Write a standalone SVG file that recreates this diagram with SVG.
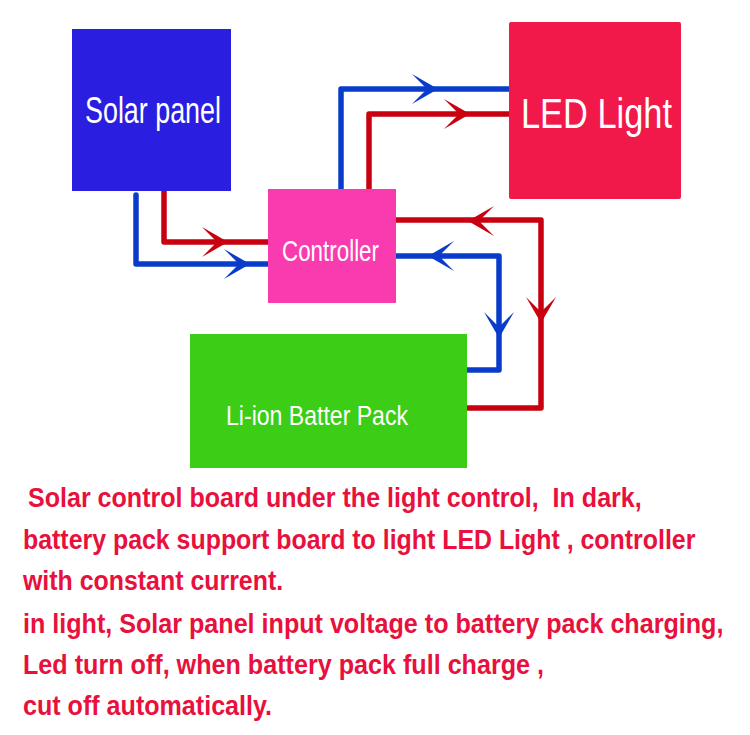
<svg xmlns="http://www.w3.org/2000/svg" xmlns:xlink="http://www.w3.org/1999/xlink" width="750" height="735" viewBox="0 0 750 735">
<style>
.lbl{font-family:"Liberation Sans",Arial,sans-serif;fill:#ffffff;}
.note{font-family:"Liberation Sans",Arial,sans-serif;font-weight:bold;font-size:27px;fill:#e8103c;white-space:pre;}
.wb{fill:none;stroke:#0a3ccc;stroke-width:5.5;stroke-linejoin:round;stroke-linecap:round;}
.wr{fill:none;stroke:#c8000f;stroke-width:5.5;stroke-linejoin:round;}
.ab{fill:#0a3ccc;}
.ar{fill:#c8000f;}
</style>
<defs>
<path id="ah" d="M0,0 L-26,-15 Q-16,-5 -11,0 Q-16,5 -26,15 Z"/>
</defs>
<rect width="750" height="735" fill="#ffffff"/>
<g id="connectors">
<path class="wb" d="M136,195 V264 H268"/>
<path class="wr" d="M164,191 V242 H268"/>
<path class="wb" d="M341,189 V89 H509"/>
<path class="wr" d="M369,189 V114 H509"/>
<path class="wr" d="M396,220 H541 V408 H467"/>
<path class="wb" d="M396,256 H499 V370 H467"/>
<use xlink:href="#ah" class="ab" transform="translate(250,264)"/>
<use xlink:href="#ah" class="ar" transform="translate(228,242)"/>
<use xlink:href="#ah" class="ab" transform="translate(438,89)"/>
<use xlink:href="#ah" class="ar" transform="translate(470,114)"/>
<use xlink:href="#ah" class="ar" transform="translate(468,221) rotate(180)"/>
<use xlink:href="#ah" class="ar" transform="translate(541,323) rotate(90)"/>
<use xlink:href="#ah" class="ab" transform="translate(428,256) rotate(180)"/>
<use xlink:href="#ah" class="ab" transform="translate(499,338) rotate(90)"/>
</g>
<g id="solar-panel">
<rect x="72" y="29" width="159" height="162" fill="#2a1ee0"/>
<text class="lbl" x="85" y="123" font-size="36" textLength="136" lengthAdjust="spacingAndGlyphs">Solar panel</text>
</g>
<g id="led-light">
<rect x="509" y="22" width="172" height="177" rx="2" fill="#f0194a"/>
<text class="lbl" x="521" y="128" font-size="43" textLength="151" lengthAdjust="spacingAndGlyphs">LED Light</text>
</g>
<g id="controller">
<rect x="268" y="189" width="128" height="114" fill="#f83cb0"/>
<text class="lbl" x="282" y="261" font-size="29" textLength="97" lengthAdjust="spacingAndGlyphs">Controller</text>
</g>
<g id="battery">
<rect x="190" y="334" width="277" height="134" fill="#3ccd17"/>
<text class="lbl" x="226" y="425" font-size="27" textLength="182" lengthAdjust="spacingAndGlyphs">Li-ion Batter Pack</text>
</g>
<g id="notes">
<text class="note" transform="translate(28,507) scale(0.85,1)" textLength="722" lengthAdjust="spacingAndGlyphs" xml:space="preserve">Solar control board under the light control,  In dark,</text>
<text class="note" transform="translate(23,549) scale(0.85,1)" textLength="791" lengthAdjust="spacingAndGlyphs">battery pack support board to light LED Light , controller</text>
<text class="note" transform="translate(23,590) scale(0.85,1)" textLength="306" lengthAdjust="spacingAndGlyphs">with constant current.</text>
<text class="note" transform="translate(23,633) scale(0.85,1)" textLength="824" lengthAdjust="spacingAndGlyphs">in light, Solar panel input voltage to battery pack charging,</text>
<text class="note" transform="translate(23,674) scale(0.85,1)" textLength="613" lengthAdjust="spacingAndGlyphs">Led turn off, when battery pack full charge ,</text>
<text class="note" transform="translate(23,715) scale(0.85,1)" textLength="293" lengthAdjust="spacingAndGlyphs">cut off automatically.</text>
</g>
</svg>
